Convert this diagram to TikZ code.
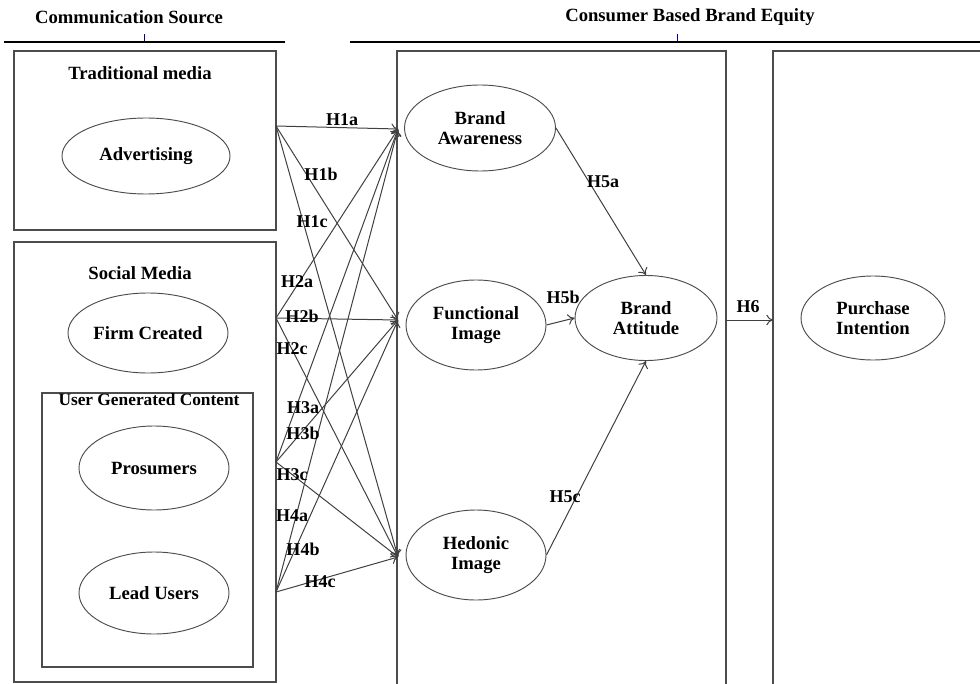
\documentclass[tikz,border=0pt]{standalone}
\usepackage{fontspec}
\setmainfont{Liberation Serif}
\usetikzlibrary{shapes.geometric,arrows.meta}
\tikzset{
  construct/.style={ellipse,draw=black!70,line width=0.7pt,inner sep=0pt,align=center,
    font=\fontsize{14}{15}\selectfont\bfseries},
  esize/.style 2 args={minimum width=#1*0.75pt,minimum height=#2*0.75pt},
  heading/.style={font=\fontsize{14}{15}\selectfont\bfseries},
  hyp/.style={font=\fontsize{13.5}{14}\selectfont\bfseries,inner sep=0pt},
  frame/.style={draw=black!70,line width=0.8pt},
  path/.style={-{To[length=5pt,width=8pt]},draw=black!75,line width=0.75pt}
}
\begin{document}
\begin{tikzpicture}[x=0.75pt,y=-0.75pt]
  \useasboundingbox (0,0) rectangle (980,684);
  \clip (0,0) rectangle (980,684);
  % headings
  \node[heading] (csrc) at (129,17) {Communication Source};
  \node[heading] (cbbe) at (690,17) {Consumer Based Brand Equity};
  \draw[line width=1.5pt] (4,42)--(285,42);
  \draw[line width=1.5pt] (350,42)--(985,42);
  \draw[blue!60!black] (144,34)--(144,41);
  \draw[blue!60!black] (677,34)--(677,41);
  % boxes
  \draw[frame] (14,51) rectangle (276,230);
  \draw[frame] (14,242) rectangle (276,682);
  \draw[frame] (42,393) rectangle (253,667);
  \draw[frame] (397,51) rectangle (726,690);
  \draw[frame] (773,51) rectangle (990,690);
  \node[heading] (trad) at (140,73) {Traditional media};
  \node[heading] (soc) at (140,273) {Social Media};
  \node[font=\fontsize{13}{14}\selectfont\bfseries,inner sep=0pt] (ugc) at (149,400) {User Generated Content};
  % constructs
  \node[construct,esize={168}{76}] (adv) at (146,156) {Advertising};
  \node[construct,esize={160}{80}] (firm) at (148,333) {Firm Created};
  \node[construct,esize={150}{84}] (pros) at (154,468) {Prosumers};
  \node[construct,esize={150}{82}] (lead) at (154,593) {Lead Users};
  \node[construct,esize={151}{86}] (aware) at (480,128) {Brand\\Awareness};
  \node[construct,esize={140}{90}] (func) at (476,325) {Functional\\Image};
  \node[construct,esize={140}{90}] (hed) at (476,555) {Hedonic\\Image};
  \node[construct,esize={142}{85}] (att) at (646,318) {Brand\\Attitude};
  \node[construct,esize={144}{84}] (purch) at (873,318) {Purchase\\Intention};
  % arrow ends
  \coordinate (s1) at (276,126);
  \coordinate (s2) at (276,318);
  \coordinate (s3) at (276,462);
  \coordinate (s4) at (276,592);
  \coordinate (tA) at (398,129);
  \coordinate (tF) at (398,320);
  \coordinate (tH) at (398,557);
  \foreach \s in {s1,s2,s3,s4}
    \foreach \t in {tA,tF,tH}
      \draw[path] (\s)--(\t);
  \draw[path] (aware.east)--(att.north);
  \draw[path] (func.east)--(att.west);
  \draw[path] (hed.east)--(att.south);
  \coordinate (m2) at (726,320);
  \coordinate (r1) at (773,320);
  \draw[path] (m2)--(r1);
  % hypotheses
  \node[hyp] (h1a) at (342,120) {H1a};
  \node[hyp] (h1b) at (321,174) {H1b};
  \node[hyp] (h1c) at (312,222) {H1c};
  \node[hyp] (h2a) at (297,282) {H2a};
  \node[hyp] (h2b) at (302,316) {H2b};
  \node[hyp] (h2c) at (292,349) {H2c};
  \node[hyp] (h3a) at (303,408) {H3a};
  \node[hyp] (h3b) at (303,433) {H3b};
  \node[hyp] (h3c) at (292,475) {H3c};
  \node[hyp] (h4a) at (292,516) {H4a};
  \node[hyp] (h4b) at (303,549) {H4b};
  \node[hyp] (h4c) at (320,582) {H4c};
  \node[hyp] (h5a) at (603,182) {H5a};
  \node[hyp] (h5b) at (563,297) {H5b};
  \node[hyp] (h5c) at (565,497) {H5c};
  \node[hyp] (h6) at (748,307) {H6};
\end{tikzpicture}
\end{document}
